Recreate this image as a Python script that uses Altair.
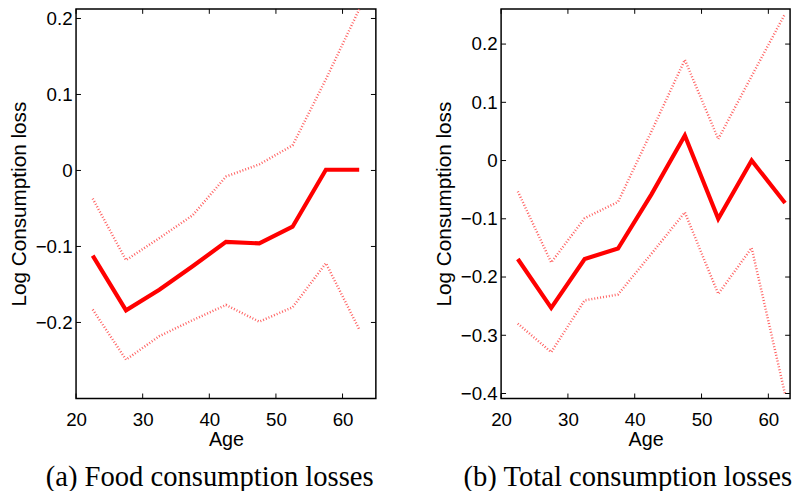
import altair as alt
import pandas as pd

# ---- data ----
ages = [22.5, 27.5, 32.5, 37.5, 42.5, 47.5, 52.5, 57.5, 62.5]

food_mean = [-0.112, -0.184, -0.157, -0.126, -0.094, -0.096, -0.074, 0.001, 0.001]
food_upper = [-0.037, -0.118, -0.089, -0.059, -0.008, 0.008, 0.033, 0.12, 0.212]
food_lower = [-0.183, -0.249, -0.218, -0.197, -0.177, -0.199, -0.18, -0.122, -0.209]

total_mean = [-0.169, -0.253, -0.169, -0.151, -0.058, 0.043, -0.1, 0.0, -0.073]
total_upper = [-0.053, -0.175, -0.099, -0.071, 0.05, 0.173, 0.037, 0.145, 0.252]
total_lower = [-0.28, -0.329, -0.24, -0.23, -0.16, -0.089, -0.229, -0.15, -0.401]

x_ticks = [20, 30, 40, 50, 60]
food_y_ticks = [-0.2, -0.1, 0, 0.1, 0.2]
total_y_ticks = [-0.4, -0.3, -0.2, -0.1, 0, 0.1, 0.2]

food_caption = "(a) Food consumption losses"
total_caption = "(b) Total consumption losses"

LABEL_EXPR = "datum.value == 0 ? '0' : format(datum.value, '.1f')"


def panel(mean, upper, lower, xdom, ydom, yticks, caption, W, H, dx):
    xs = alt.Scale(domain=xdom, nice=False, zero=False)
    ys = alt.Scale(domain=ydom, nice=False, zero=False)

    df_mean = pd.DataFrame({"Age": ages, "value": mean})
    df_band = pd.DataFrame({
        "Age": ages + ages,
        "value": upper + lower,
        "band": ["upper"] * len(ages) + ["lower"] * len(ages),
    })

    xaxis = alt.Axis(values=x_ticks, title="Age", labelPadding=12,
                     titlePadding=1, format="d", domain=False, ticks=False,
                     tickSize=0, grid=False, labelFlush=False)
    yaxis = alt.Axis(values=yticks, title="Log Consumption loss",
                     labelExpr=LABEL_EXPR, labelPadding=4, titlePadding=5.5,
                     domain=False, ticks=False, tickSize=0, grid=False,
                     labelFlush=False)

    X = alt.X("Age:Q", scale=xs, axis=xaxis)
    Y = alt.Y("value:Q", scale=ys, axis=yaxis)

    bands = alt.Chart(df_band).mark_line(
        color="#ff6060", strokeWidth=2.5, strokeDash=[1, 2]
    ).encode(x=X, y=Y, detail="band:N")
    mean_line = alt.Chart(df_mean).mark_line(
        color="#ff0000", strokeWidth=4.2
    ).encode(x=X, y=Y)

    xt = pd.DataFrame({"Age": x_ticks})
    yt = pd.DataFrame({"value": yticks})
    tick = dict(color="black", strokeWidth=1)
    bottom_t = alt.Chart(xt).mark_rule(**tick).encode(
        x=X, y=alt.value(H), y2=alt.value(H - 5))
    top_t = alt.Chart(xt).mark_rule(**tick).encode(
        x=X, y=alt.value(0), y2=alt.value(5))
    left_t = alt.Chart(yt).mark_rule(**tick).encode(
        y=Y, x=alt.value(0), x2=alt.value(5))
    right_t = alt.Chart(yt).mark_rule(**tick).encode(
        y=Y, x=alt.value(W - 5), x2=alt.value(W))

    return alt.layer(bands, mean_line, bottom_t, top_t, left_t, right_t).properties(
        width=W, height=H,
        title=alt.TitleParams(
            text=caption, orient="bottom", anchor="middle", frame="group",
            dx=dx, offset=13.5, font="Liberation Serif", fontSize=29,
            fontWeight="normal", color="black",
        ),
    )


a = panel(food_mean, food_upper, food_lower, [20, 65], [-0.3, 0.2126],
          food_y_ticks, food_caption, 304, 395, -16.5)
b = panel(total_mean, total_upper, total_lower, [20, 63.25], [-0.4085, 0.2604],
          total_y_ticks, total_caption, 293, 395, -18)

chart = alt.hconcat(a, b, spacing=56).properties(
    padding={"top": -8.5, "left": 0, "right": 0, "bottom": 0},
    background="white",
).configure_view(
    stroke="black", strokeWidth=1.5
).configure_axis(
    labelFont="Liberation Sans", labelFontSize=19, labelColor="black",
    titleFont="Liberation Sans", titleFontSize=21, titleFontWeight="normal",
    titleColor="black",
).configure_axisX(titleFontSize=20)

chart.save("out.html", embed_options={"renderer": "svg", "actions": False})
